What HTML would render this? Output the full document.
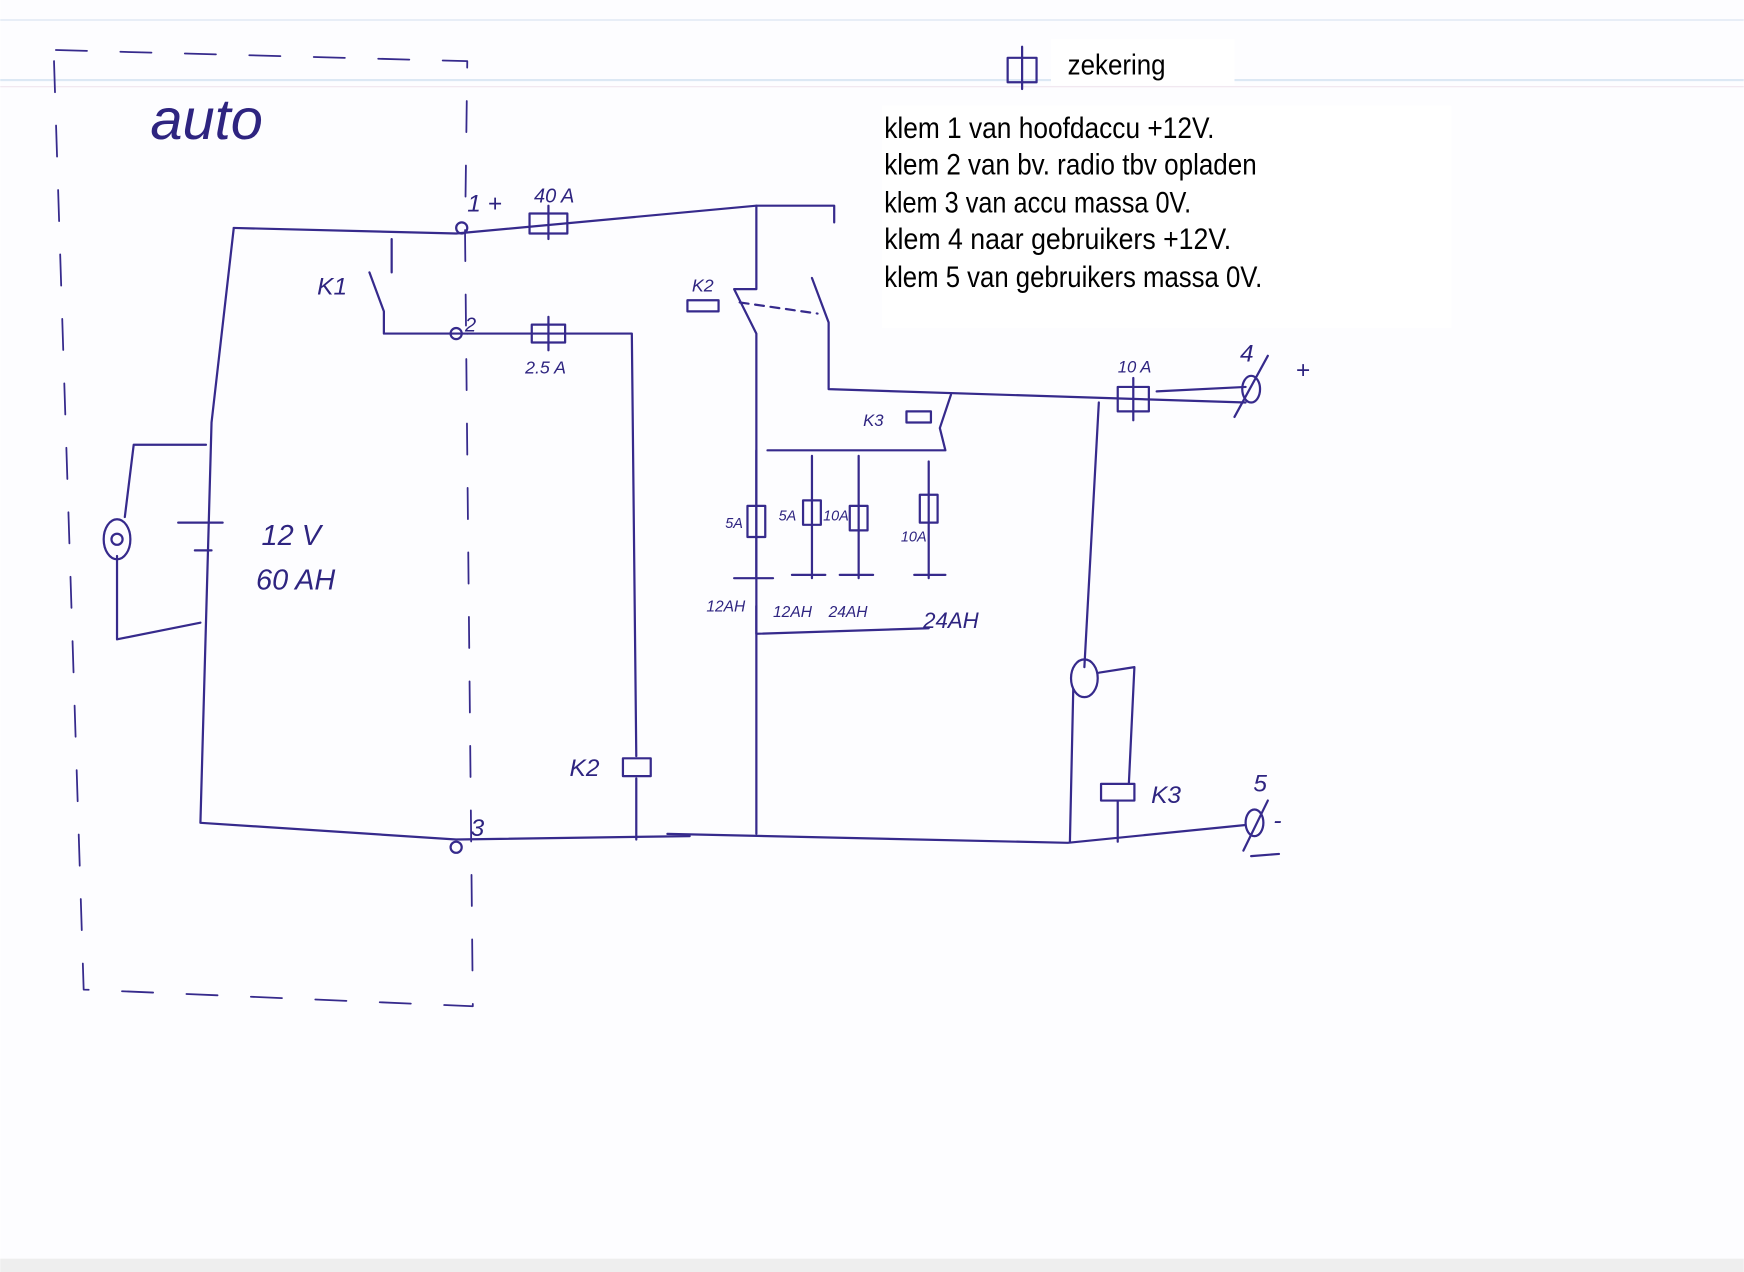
<!DOCTYPE html>
<html><head><meta charset="utf-8"><style>
html,body{margin:0;padding:0;background:#fff;}
svg{display:block;}
.t{font-family:"Liberation Sans Narrow","Liberation Sans",sans-serif;fill:#000;}
.h{font-family:"Liberation Sans",sans-serif;fill:#2e2480;font-style:italic;}
</style></head><body>
<svg width="1744" height="1272" viewBox="0 0 1568 1144" xmlns="http://www.w3.org/2000/svg">
<rect width="1568" height="1144" fill="#fdfdff"/>
<line x1="0" y1="18" x2="1568" y2="18" stroke="#e4ecf6" stroke-width="1.5"/>
<line x1="0" y1="72" x2="1568" y2="72" stroke="#dce8f4" stroke-width="2"/>
<line x1="0" y1="78" x2="1568" y2="78" stroke="#efe4ee" stroke-width="1"/>
<rect x="0" y="1132" width="1568" height="12" fill="#eeeeee"/>
<rect x="945" y="35" width="165" height="42" fill="#fff"/>
<rect x="793" y="95" width="512" height="200" fill="#fff"/>
<g fill="none" stroke="#362a8c" stroke-width="2" stroke-linecap="round" stroke-linejoin="round">
<path d="M50 45 L420 55 L418 210 L425 905 L75 890 L48 45" stroke-dasharray="28 30" stroke-width="1.6"/>
<path d="M210 205 L410 210 L680 185 L750 185 L750 200"/>
<path d="M210 205 L190 380 L180 740 L410 755 L620 752"/>
<path d="M600 750 L960 758 L1120 742"/>
<path d="M160 470 L200 470 M175 495 L190 495"/>
<path d="M120 400 L185 400 M105 575 L180 560 M120 400 L112 465 M105 500 L105 575"/>
<ellipse cx="105" cy="485" rx="12" ry="18"/>
<circle cx="105" cy="485" r="5"/>
<path d="M352 215 L352 245 M332 245 L345 280 L345 300 L420 300"/>
<path d="M420 300 L568 300 L572 680 M572 700 L572 755"/>
<rect x="560" y="682" width="25" height="16"/>
<rect x="476" y="192" width="34" height="18"/><path d="M493 185 L493 215"/>
<rect x="478" y="292" width="30" height="16"/><path d="M493 285 L493 315"/>
<rect x="1005" y="348" width="28" height="22"/><path d="M1019 340 L1019 378"/>
<rect x="906" y="52" width="26" height="22"/><path d="M919 42 L919 80"/>
<path d="M680 185 L680 260 L660 260 L680 300 L680 750"/>
<path d="M730 250 L745 290 L745 350 L1120 362"/>
<path d="M665 272 L735 282" stroke-dasharray="8 6"/>
<rect x="618" y="270" width="28" height="10"/>
<path d="M690 405 L850 405 L845 385 L855 355"/>
<rect x="815" y="370" width="22" height="10"/>
<path d="M680 405 L680 520 M730 410 L730 520 M772 410 L772 520 M835 415 L835 520"/>
<rect x="672" y="455" width="16" height="28"/><rect x="722" y="450" width="16" height="22"/>
<rect x="764" y="455" width="16" height="22"/><rect x="827" y="445" width="16" height="25"/>
<path d="M660 520 L695 520 M712 517 L742 517 M755 517 L785 517 M822 517 L850 517"/>
<path d="M680 570 L835 565 M680 545 L680 570"/>
<path d="M988 362 L975 600 M965 620 L962 757"/>
<ellipse cx="975" cy="610" rx="12" ry="17"/>
<path d="M988 605 L1020 600 L1015 705 M1005 720 L1005 757"/>
<rect x="990" y="705" width="30" height="15"/>
<path d="M1040 352 L1120 348"/>
<ellipse cx="1125" cy="350" rx="8" ry="12"/><path d="M1110 375 L1140 320"/>
<ellipse cx="1128" cy="740" rx="8" ry="12"/><path d="M1118 765 L1140 720"/>
<path d="M1125 770 L1150 768"/>
<circle cx="415" cy="205" r="5"/><circle cx="410" cy="300" r="5"/><circle cx="410" cy="762" r="5"/>
</g>
<g class="h" font-size="22">
<text x="135" y="125" font-size="52" font-weight="300">auto</text>
<text x="285" y="265">K1</text>
<text x="480" y="182" font-size="18">40 A</text>
<text x="472" y="336" font-size="16">2.5 A</text>
<text x="622" y="262" font-size="16">K2</text>
<text x="235" y="490" font-size="26">12 V</text>
<text x="230" y="530" font-size="26">60 AH</text>
<text x="512" y="698">K2</text>
<text x="776" y="383" font-size="15">K3</text>
<text x="1005" y="335" font-size="15">10 A</text>
<text x="1035" y="722">K3</text>
<text x="1115" y="325">4</text><text x="1165" y="340">+</text>
<text x="1127" y="712">5</text><text x="1145" y="745">-</text>
<text x="420" y="190">1 +</text><text x="418" y="298" font-size="18">2</text>
<text x="423" y="752">3</text>
<text x="652" y="475" font-size="13">5A</text><text x="700" y="468" font-size="13">5A</text>
<text x="740" y="468" font-size="13">10A</text><text x="810" y="487" font-size="13">10A</text>
<text x="635" y="550" font-size="14">12AH</text><text x="695" y="555" font-size="14">12AH</text>
<text x="745" y="555" font-size="14">24AH</text><text x="830" y="565" font-size="20">24AH</text>
</g>
<text class="t" x="960" y="67" font-size="26" textLength="88" lengthAdjust="spacingAndGlyphs">zekering</text>
<g class="t" font-size="27" lengthAdjust="spacingAndGlyphs">
<text x="795" y="124" textLength="297" lengthAdjust="spacingAndGlyphs">klem 1 van hoofdaccu +12V.</text>
<text x="795" y="157" textLength="335" lengthAdjust="spacingAndGlyphs">klem 2 van bv. radio tbv opladen</text>
<text x="795" y="191" textLength="276" lengthAdjust="spacingAndGlyphs">klem 3 van accu massa 0V.</text>
<text x="795" y="224" textLength="312" lengthAdjust="spacingAndGlyphs">klem 4 naar gebruikers +12V.</text>
<text x="795" y="258" textLength="340" lengthAdjust="spacingAndGlyphs">klem 5 van gebruikers massa 0V.</text>
</g>
</svg>
</body></html>
